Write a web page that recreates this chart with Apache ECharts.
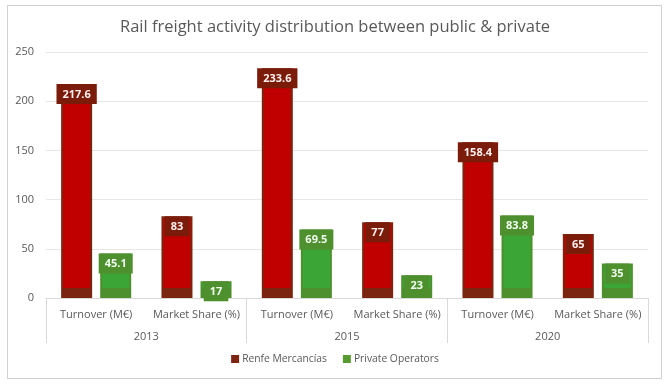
<!DOCTYPE html>
<html>
<head>
<meta charset="utf-8">
<script src="https://cdn.jsdelivr.net/npm/echarts@6/dist/echarts.min.js"></script>
<style>
html,body{margin:0;padding:0;background:#fff;}
#wrap{position:relative;width:670px;height:384px;}
#chart{position:absolute;left:0;top:0;width:670px;height:384px;}
#frame{position:absolute;left:7px;top:5px;width:653px;height:372px;border:1px solid #d0d0d0;pointer-events:none;}
</style>
</head>
<body>
<div id="wrap"><div id="chart"></div><div id="frame"></div></div>
<script>
const titleText = 'Rail freight activity distribution between public & private';
const groups = ['2013', '2015', '2020'];
const measures = ['Turnover (M€)', 'Market Share (%)'];
const seriesNames = ['Renfe Mercancías', 'Private Operators'];
const renfe = [217.6, 83, 233.6, 77, 158.4, 65];
const privateOps = [45.1, 17, 69.5, 23, 83.8, 35];
const yTicks = [0, 50, 100, 150, 200, 250];

const categories = [];
groups.forEach(function () { measures.forEach(function (m) { categories.push(m); }); });

const chart = echarts.init(document.getElementById('chart'), null, {renderer: 'canvas'});

function bottomStrip(fill, dark) {
  return {
    type: 'linear', x: 0, y: 0, x2: 0, y2: 298, global: true,
    colorStops: [
      {offset: 0, color: fill}, {offset: 0.968, color: fill},
      {offset: 0.968, color: dark}, {offset: 1, color: dark}
    ]
  };
}

const option = {
  animation: false,
  textStyle: {fontFamily: 'Open Sans'},
  title: {
    text: titleText, left: 'center', top: 14,
    textStyle: {fontFamily: 'Open Sans', fontSize: 16.5, fontWeight: 'normal', color: '#595959'}
  },
  legend: {
    bottom: 15, left: 'center', itemWidth: 8, itemHeight: 8, itemGap: 16,
    textStyle: {fontFamily: 'Open Sans', fontSize: 10.3, color: '#595959', padding: [0, 0, 0, -2]},
    data: [
      {name: seriesNames[0], icon: 'rect', itemStyle: {color: '#7B2410', borderWidth: 0}},
      {name: seriesNames[1], icon: 'rect', itemStyle: {color: '#5A9A32', borderWidth: 0}}
    ]
  },
  grid: {left: 46, right: 22, top: 52, bottom: 86, containLabel: false},
  xAxis: [
    {
      type: 'category', data: categories,
      axisTick: {show: false},
      axisLine: {lineStyle: {color: '#d9d9d9'}},
      axisLabel: {margin: 11, fontSize: 11, color: '#595959', fontFamily: 'Open Sans', interval: 0}
    },
    {
      type: 'category', data: groups, position: 'bottom',
      axisLine: {show: false},
      axisTick: {show: true, length: 45, lineStyle: {color: '#d9d9d9'}},
      axisLabel: {margin: 33, fontSize: 11, color: '#595959', fontFamily: 'Open Sans'}
    }
  ],
  yAxis: {
    type: 'value', min: yTicks[0], max: yTicks[yTicks.length - 1], interval: 50,
    axisLine: {show: false}, axisTick: {show: false},
    axisLabel: {fontSize: 11, color: '#595959', margin: 12, fontFamily: 'Open Sans'},
    splitLine: {lineStyle: {color: '#e6e6e6'}}
  },
  series: [
    {
      name: seriesNames[0], type: 'bar', xAxisIndex: 0, data: renfe,
      barWidth: 31, barGap: '26%',
      itemStyle: {color: bottomStrip('#C00000', '#7B2410'), borderColor: '#7B2410', borderWidth: 2},
      label: {
        show: true, position: 'insideTop', distance: 0,
        backgroundColor: '#7B1C0A', padding: [5, 6, 4, 6],
        color: '#fff0f0', fontSize: 11, fontWeight: 'bold', fontFamily: 'Open Sans'
      }
    },
    {
      name: seriesNames[1], type: 'bar', xAxisIndex: 0, data: privateOps,
      barWidth: 31,
      itemStyle: {color: bottomStrip('#3BA535', '#4E8F2E'), borderColor: '#4E8F2E', borderWidth: 2},
      label: {
        show: true, position: 'insideTop', distance: 0,
        backgroundColor: '#4E8F2E', padding: [5, 6, 4, 6],
        color: '#f0fff0', fontSize: 11, fontWeight: 'bold', fontFamily: 'Open Sans'
      }
    }
  ]
};
chart.setOption(option);
</script>
</body>
</html>
